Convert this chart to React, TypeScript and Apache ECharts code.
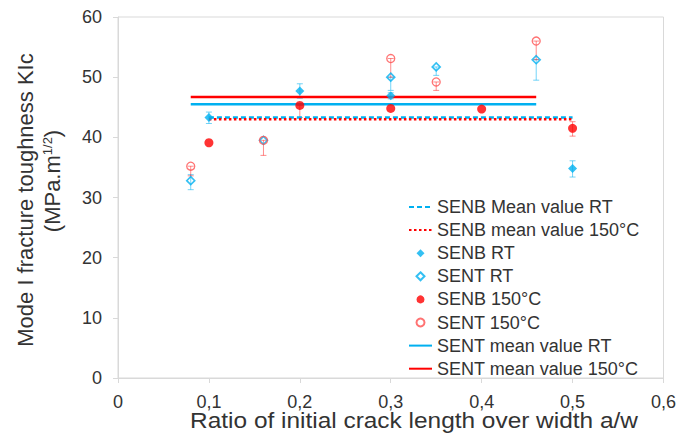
import React, { useEffect, useRef } from "react";
import * as echarts from "echarts";

// ---- data ----
const senbRtX = [0.1, 0.2, 0.3, 0.5];
const senbRtY = [43.3, 47.7, 46.9, 34.8];
const senbRtLo = [42.3, 46.5, 46.4, 33.4];
const senbRtHi = [44.2, 48.9, 47.4, 36.1];

const sentRtX = [0.08, 0.16, 0.3, 0.35, 0.46];
const sentRtY = [32.8, 39.5, 50.0, 51.7, 52.9];
const sentRtLo = [31.3, 39.5, 47.8, 50.3, 49.5];
const sentRtHi = [33.8, 39.5, 50.0, 51.7, 52.9];

const senb150X = [0.1, 0.2, 0.3, 0.4, 0.5];
const senb150Y = [39.1, 45.3, 44.8, 44.7, 41.5];
const senb150Lo = [39.1, 43.3, 44.8, 44.7, 40.2];
const senb150Hi = [39.1, 45.3, 44.8, 44.7, 42.6];

const sent150X = [0.08, 0.16, 0.3, 0.35, 0.46];
const sent150Y = [35.2, 39.5, 53.1, 49.2, 56.0];
const sent150Lo = [33.6, 37.0, 50.0, 47.8, 52.9];
const sent150Hi = [35.2, 39.5, 53.1, 49.2, 56.0];

const senbMeanRange = [0.1, 0.5];
const sentMeanRange = [0.08, 0.46];
const senbMeanRT = 43.3;
const senbMean150 = 43.0;
const sentMeanRT = 45.5;
const sentMean150 = 46.7;

const xTicks = ["0", "0,1", "0,2", "0,3", "0,4", "0,5", "0,6"];

const legendNames = [
  "SENB Mean value RT",
  "SENB mean value 150°C",
  "SENB RT",
  "SENT RT",
  "SENB 150°C",
  "SENT 150°C",
  "SENT mean value RT",
  "SENT mean value 150°C",
];

const BLUE = "#00b0f0";
const RED = "#ff0000";
const FONT = "'Liberation Sans', Arial, sans-serif";
const TXT = "#333333";
const DIAMOND_ICON = "path://M4 0L8 4L4 8L0 4Z";

function pts(xs: number[], ys: number[]) {
  return xs.map((x, i) => [x, ys[i]]);
}
function errs(xs: number[], lo: number[], hi: number[]) {
  return xs.map((x, i) => [x, lo[i], hi[i]]);
}

function errSeries(name: string, data: number[][], color: string) {
  return {
    type: "custom",
    name,
    data,
    z: 1,
    encode: { x: 0, y: [1, 2] },
    renderItem: (params: any, api: any) => {
      const x = api.value(0);
      const lo = api.value(1);
      const hi = api.value(2);
      if (hi - lo < 0.01) return null;
      const a = api.coord([x, lo]);
      const b = api.coord([x, hi]);
      const hw = 3;
      const style = { stroke: color, lineWidth: 1 };
      return {
        type: "group",
        children: [
          { type: "line", shape: { x1: a[0], y1: a[1], x2: b[0], y2: b[1] }, style },
          { type: "line", shape: { x1: a[0] - hw, y1: a[1], x2: a[0] + hw, y2: a[1] }, style },
          { type: "line", shape: { x1: b[0] - hw, y1: b[1], x2: b[0] + hw, y2: b[1] }, style },
        ],
      };
    },
  };
}

function meanLine(name: string, range: number[], v: number, color: string, type: any, z: number) {
  return {
    type: "line",
    name,
    data: [
      [range[0], v],
      [range[1], v],
    ],
    symbol: "none",
    z,
    lineStyle: { color, width: 2.5, type },
    itemStyle: { color },
  };
}

export default function App() {
  const ref = useRef<HTMLDivElement>(null);
  useEffect(() => {
    const chart = echarts.init(ref.current!, null, { renderer: "svg" });
    const lineItem = (name: string) => ({ name, itemStyle: { opacity: 0 } });
    const option: any = {
      animation: false,
      backgroundColor: "#ffffff",
      grid: { left: 118, right: 15, top: 17, bottom: 59, show: true, borderColor: "#d9d9d9", borderWidth: 1 },
      xAxis: {
        type: "value",
        min: 0,
        max: 0.6,
        interval: 0.1,
        axisLine: { show: true, lineStyle: { color: "#d9d9d9" } },
        axisTick: { show: true, length: 5, lineStyle: { color: "#d9d9d9" } },
        splitLine: { show: false },
        axisLabel: {
          fontSize: 18,
          fontFamily: FONT,
          color: TXT,
          margin: 15,
          formatter: (v: number) => xTicks[Math.round(v * 10)],
        },
      },
      yAxis: {
        type: "value",
        min: 0,
        max: 60,
        interval: 10,
        axisLine: { show: true, lineStyle: { color: "#d9d9d9" } },
        axisTick: { show: true, length: 5, lineStyle: { color: "#d9d9d9" } },
        splitLine: { show: false },
        axisLabel: { fontSize: 18, fontFamily: FONT, color: TXT, margin: 16 },
      },
      legend: {
        orient: "vertical",
        left: 408,
        top: 198,
        padding: 0,
        itemWidth: 23,
        itemHeight: 8,
        itemGap: 5.1,
        data: [
          lineItem(legendNames[0]),
          lineItem(legendNames[1]),
          { name: legendNames[2], icon: DIAMOND_ICON },
          { name: legendNames[3], icon: DIAMOND_ICON },
          { name: legendNames[4] },
          { name: legendNames[5] },
          lineItem(legendNames[6]),
          lineItem(legendNames[7]),
        ],
        textStyle: { fontSize: 18, fontFamily: FONT, color: TXT, lineHeight: 18 },
      },
      graphic: [
        {
          type: "text",
          x: 414,
          y: 420,
          scaleX: 1.11,
          style: {
            text: "Ratio of initial crack length over width a/w",
            font: `22px ${FONT}`,
            fill: TXT,
            align: "center",
            verticalAlign: "middle",
          },
        },
        {
          type: "text",
          x: 25,
          y: 200,
          rotation: Math.PI / 2,
          style: {
            text: "Mode I fracture toughness KIc",
            font: `22px ${FONT}`,
            fill: TXT,
            align: "center",
            verticalAlign: "middle",
          },
        },
        {
          type: "text",
          x: 52,
          y: 181,
          rotation: Math.PI / 2,
          style: {
            text: "(MPa.m{sup|1/2})",
            font: `22px ${FONT}`,
            fill: TXT,
            align: "center",
            verticalAlign: "middle",
            rich: {
              sup: { fontSize: 13, fontFamily: FONT, fill: TXT, verticalAlign: "top", lineHeight: 22 },
            },
          },
        },
      ],
      series: [
        meanLine(legendNames[0], senbMeanRange, senbMeanRT, BLUE, [5, 3], 3),
        meanLine(legendNames[1], senbMeanRange, senbMean150, RED, [2.5, 2.5], 3),
        errSeries("errSenbRt", errs(senbRtX, senbRtLo, senbRtHi), "rgba(0,176,240,0.55)"),
        errSeries("errSentRt", errs(sentRtX, sentRtLo, sentRtHi), "rgba(0,176,240,0.55)"),
        errSeries("errSenb150", errs(senb150X, senb150Lo, senb150Hi), "rgba(255,0,0,0.45)"),
        errSeries("errSent150", errs(sent150X, sent150Lo, sent150Hi), "rgba(255,0,0,0.45)"),
        {
          type: "scatter",
          name: legendNames[2],
          data: pts(senbRtX, senbRtY),
          symbol: "diamond",
          symbolSize: 9,
          z: 5,
          itemStyle: { color: BLUE },
        },
        {
          type: "scatter",
          name: legendNames[3],
          data: pts(sentRtX, sentRtY),
          symbol: "diamond",
          symbolSize: 8,
          z: 5,
          itemStyle: { color: "rgba(255,255,255,0)", borderColor: BLUE, borderWidth: 1.6 },
        },
        {
          type: "scatter",
          name: legendNames[4],
          data: pts(senb150X, senb150Y),
          symbol: "circle",
          symbolSize: 9,
          z: 5,
          itemStyle: { color: RED },
        },
        {
          type: "scatter",
          name: legendNames[5],
          data: pts(sent150X, sent150Y),
          symbol: "circle",
          symbolSize: 8,
          z: 5,
          itemStyle: { color: "rgba(255,255,255,0)", borderColor: "#ff5050", borderWidth: 1.3 },
        },
        meanLine(legendNames[6], sentMeanRange, sentMeanRT, BLUE, "solid", 3),
        meanLine(legendNames[7], sentMeanRange, sentMean150, RED, "solid", 3),
      ],
    };
    chart.setOption(option);
    return () => chart.dispose();
  }, []);
  return (
    <div
      ref={ref}
      style={{ position: "fixed", left: 0, top: 0, width: 679, height: 437, background: "#fff" }}
    />
  );
}
